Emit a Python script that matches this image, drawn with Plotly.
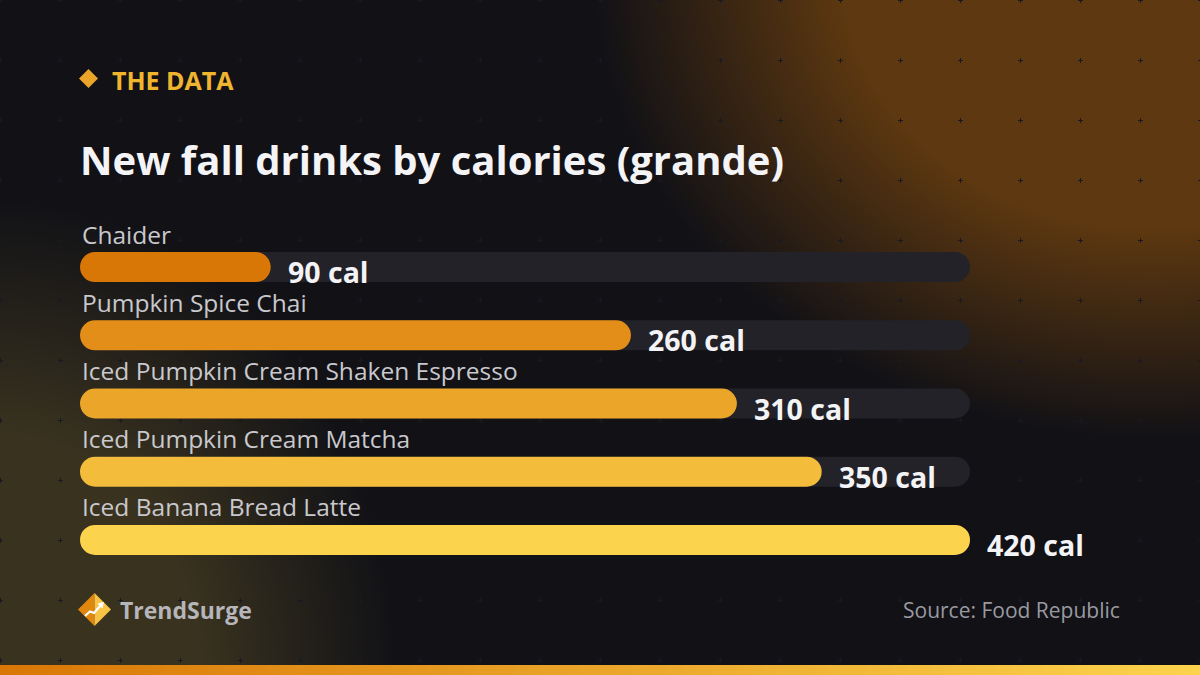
import base64, struct, zlib
import numpy as np
import plotly.graph_objects as go

# ---------------- data ----------------
drinks = ["Chaider", "Pumpkin Spice Chai", "Iced Pumpkin Cream Shaken Espresso",
          "Iced Pumpkin Cream Matcha", "Iced Banana Bread Latte"]
calories = [90, 260, 310, 350, 420]
bar_colors = ["#d97706", "#e28e18", "#eba529", "#f3bc3b", "#fcd34d"]
value_suffix = " cal"

kicker = "THE DATA"
title = "New fall drinks by calories (grande)"
brand = "TrendSurge"
source = "Source: Food Republic"

# ---------------- geometry ----------------
W, H = 1200, 675
L, R, T, B = 80, 230, 233, 101
PW, PH = W - L - R, H - T - B
FONT = "Open Sans"


def pxx(x):
    return (x - L) / PW


def pxy(y):
    return 1 - (y - T) / PH


# ---------------- background image ----------------
def make_bg():
    yy, xx = np.mgrid[0:H, 0:W].astype(float)
    base = np.array([17, 17, 22], float)
    img = np.ones((H, W, 3)) * base
    orange = np.array([217, 119, 6], float)
    yellow = np.array([252, 211, 77], float)
    d1 = np.sqrt(((xx - 1150) / 560) ** 2 + ((yy + 30) / 470) ** 2)
    a1 = 0.38 * np.clip((1 - d1) / 0.45, 0, 1)
    img = img + a1[..., None] * (orange - img)
    d2 = np.sqrt(((xx - 0) / 400) ** 2 + ((yy - 675) / 480) ** 2)
    a2 = 0.17 * np.clip((1 - d2) / 0.5, 0, 1)
    img = img + a2[..., None] * (yellow - img)
    # plus grid
    pc = np.array([24, 25, 34], float)
    for gx in range(0, W + 1, 60):
        for gy in range(0, H + 1, 60):
            for dx, dy in [(0, 0), (-2, 0), (-1, 0), (1, 0), (2, 0), (0, -2), (0, -1), (0, 1), (0, 2)]:
                X, Y = gx + dx, gy + dy
                if 0 <= X < W and 0 <= Y < H:
                    img[Y, X] = pc
    # bottom strip
    t = (np.arange(W) / (W - 1))[:, None]
    strip = orange + t * (yellow - orange)
    img[H - 10:H, :, :] = strip[None, :, :]
    img = np.clip(np.round(img), 0, 255).astype(np.uint8)
    a = img.astype(np.int16)
    f = a.copy()
    f[:, 1:, :] = (a[:, 1:, :] - a[:, :-1, :]) % 256
    f = f.astype(np.uint8)
    raw = b"".join(b"\x01" + f[y].tobytes() for y in range(H))

    def chunk(tag, data):
        return (struct.pack(">I", len(data)) + tag + data +
                struct.pack(">I", zlib.crc32(tag + data) & 0xFFFFFFFF))

    png = (b"\x89PNG\r\n\x1a\n" +
           chunk(b"IHDR", struct.pack(">IIBBBBB", W, H, 8, 2, 0, 0, 0)) +
           chunk(b"IDAT", zlib.compress(raw, 9)) + chunk(b"IEND", b""))
    return "data:image/png;base64," + base64.b64encode(png).decode()


# ---------------- figure ----------------
fig = go.Figure()
track_max = max(calories)
BAR_W = 0.44
RADIUS = 15

# track (explicit base -> all four corners rounded)
fig.add_trace(go.Bar(
    y=drinks, x=[track_max] * len(drinks), base=[0] * len(drinks), orientation="h",
    marker=dict(color="#222228", cornerradius=RADIUS, line=dict(width=0)),
    width=BAR_W, hoverinfo="skip", showlegend=False))
fig.add_trace(go.Bar(
    y=drinks, x=calories, base=[0] * len(drinks), orientation="h",
    marker=dict(color=bar_colors, cornerradius=RADIUS, line=dict(width=0)),
    width=BAR_W, showlegend=False,
    hovertemplate="%{y}: %{x} cal<extra></extra>"))

annotations = []
for d, v in zip(drinks, calories):
    annotations.append(dict(
        x=0, y=d, xref="x", yref="y", text=d, showarrow=False,
        xanchor="left", yanchor="middle", yshift=33, xshift=0,
        font=dict(family=FONT, size=24.5, color="#c8c8cd")))
    annotations.append(dict(
        x=v, y=d, xref="x", yref="y", text=f"<b>{v}{value_suffix}</b>", showarrow=False,
        xanchor="left", yanchor="middle", xshift=15, yshift=-5,
        font=dict(family=FONT, size=28.5, color="#f4f4f6")))

annotations += [
    dict(x=pxx(110), y=pxy(80), xref="paper", yref="paper", text=f"<b>{kicker}</b>",
         showarrow=False, xanchor="left", yanchor="middle",
         font=dict(family=FONT, size=25, color="#f0b52e")),
    dict(x=pxx(78), y=pxy(159), xref="paper", yref="paper", text=f"<b>{title}</b>",
         showarrow=False, xanchor="left", yanchor="middle",
         font=dict(family=FONT, size=40, color="#f4f4f6")),
    dict(x=pxx(118), y=pxy(610), xref="paper", yref="paper", text=f"<b>{brand}</b>",
         showarrow=False, xanchor="left", yanchor="middle",
         font=dict(family=FONT, size=23, color="#b6b6ba")),
    dict(x=pxx(1122), y=pxy(610), xref="paper", yref="paper", text=source,
         showarrow=False, xanchor="right", yanchor="middle",
         font=dict(family=FONT, size=21, color="#9a9aa1")),
]


def path(points):
    s = "M " + " L ".join(f"{pxx(x)},{pxy(y)}" for x, y in points) + " Z"
    return s


shapes = [
    # kicker diamond
    dict(type="path", xref="paper", yref="paper",
         path=path([(88.5, 69), (98, 78.5), (88.5, 88), (79, 78.5)]),
         fillcolor="#eaa42a", line=dict(width=0)),
    # logo diamond halves
    dict(type="path", xref="paper", yref="paper",
         path=path([(94.5, 593), (94.5, 626), (78, 609.5)]),
         fillcolor="#e0870e", line=dict(width=0)),
    dict(type="path", xref="paper", yref="paper",
         path=path([(94.5, 593), (111, 609.5), (94.5, 626)]),
         fillcolor="#f7c445", line=dict(width=0)),
    dict(type="path", xref="paper", yref="paper",
         path="M " + " L ".join(f"{pxx(x)},{pxy(y)}" for x, y in
                                [(85, 616), (90, 611.5), (94, 613), (101, 605)]),
         line=dict(color="white", width=2.2)),
    dict(type="path", xref="paper", yref="paper",
         path=path([(104, 602), (97.5, 603.5), (102.5, 608.5)]),
         fillcolor="white", line=dict(width=0)),
]

fig.update_layout(
    width=W, height=H, margin=dict(l=L, r=R, t=T, b=B, autoexpand=False),
    paper_bgcolor="#111116", plot_bgcolor="rgba(0,0,0,0)",
    barmode="overlay", showlegend=False,
    xaxis=dict(range=[0, track_max], visible=False, fixedrange=True),
    yaxis=dict(range=[len(drinks) - 0.5, -0.5], visible=False, fixedrange=True,
               type="category", categoryorder="array", categoryarray=drinks),
    annotations=annotations, shapes=shapes,
    images=[dict(source=make_bg(), xref="paper", yref="paper",
                 x=pxx(0), y=pxy(0), sizex=W / PW, sizey=H / PH,
                 xanchor="left", yanchor="top", sizing="stretch", layer="below")],
    font=dict(family=FONT),
)

fig.write_html("out.html", config={"displayModeBar": False},
               post_script="document.body.style.margin='0';document.body.style.padding='0';"
                           "document.body.style.overflow='hidden';")
